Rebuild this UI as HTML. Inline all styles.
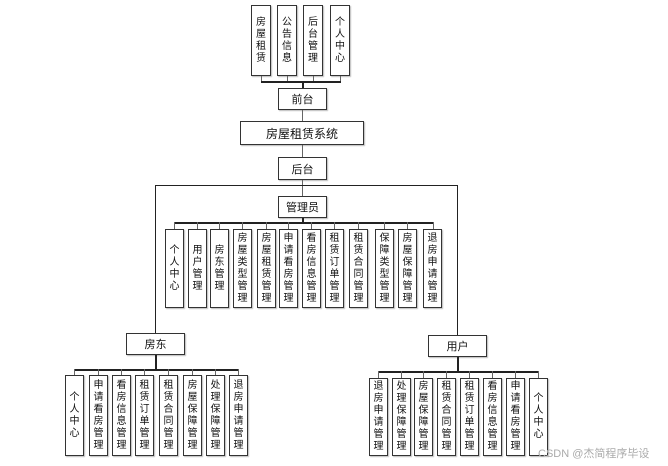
<!DOCTYPE html>
<html><head><meta charset="utf-8"><style>
body{margin:0;width:668px;height:466px;background:#fff;position:relative;overflow:hidden;font-family:"Liberation Sans","Noto Sans CJK SC",sans-serif;color:#111}
.b{position:absolute;box-sizing:border-box;border:1.5px solid #333;background:#fff;box-shadow:1px 1px 1px #bbb;display:flex;align-items:center;justify-content:center;font-size:11px}
.v{flex-direction:column;line-height:12px;font-size:10px;text-align:center;width:19px}
.l{position:absolute;background:#222}
.g{position:absolute;background:#666}
</style></head><body>
<!-- top -->
<div class="b v" style="left:251px;top:5px;height:71px;width:20px">房<br>屋<br>租<br>赁</div>
<div class="b v" style="left:277px;top:5px;height:71px;width:20px">公<br>告<br>信<br>息</div>
<div class="b v" style="left:303px;top:5px;height:71px;width:20px">后<br>台<br>管<br>理</div>
<div class="b v" style="left:330px;top:5px;height:71px;width:20px">个<br>人<br>中<br>心</div>
<div class="g" style="left:261px;top:76px;width:1px;height:6px"></div>
<div class="g" style="left:287px;top:76px;width:1px;height:6px"></div>
<div class="g" style="left:313px;top:76px;width:1px;height:6px"></div>
<div class="g" style="left:340px;top:76px;width:1px;height:6px"></div>
<div class="l" style="left:261px;top:81px;width:80px;height:1.5px"></div>
<div class="l" style="left:302px;top:81px;width:2px;height:7px"></div>
<div class="b" style="left:278px;top:88px;width:49px;height:22px">前台</div>
<div class="g" style="left:302px;top:110px;width:1px;height:11px"></div>
<div class="b" style="left:240px;top:121px;width:124px;height:24px;font-size:12px">房屋租赁系统</div>
<div class="g" style="left:302px;top:145px;width:1px;height:12px"></div>
<div class="b" style="left:278px;top:157px;width:49px;height:23px">后台</div>
<div class="g" style="left:302px;top:180px;width:1px;height:16px"></div>
<!-- frame -->
<div class="l" style="left:155px;top:185px;width:303px;height:1px"></div>
<div class="l" style="left:155px;top:185px;width:1px;height:148px"></div>
<div class="l" style="left:457px;top:185px;width:1px;height:150px"></div>
<div class="b" style="left:278px;top:196px;width:49px;height:22px">管理员</div>
<div class="l" style="left:302px;top:218px;width:2px;height:5px"></div>
<div class="l" style="left:174px;top:222px;width:260px;height:1.5px"></div>
<div class="b v" style="left:165px;top:229px;height:79px">个<br>人<br>中<br>心</div>
<div class="b v" style="left:188px;top:229px;height:79px">用<br>户<br>管<br>理</div>
<div class="b v" style="left:210px;top:229px;height:79px">房<br>东<br>管<br>理</div>
<div class="b v" style="left:233px;top:229px;height:79px">房<br>屋<br>类<br>型<br>管<br>理</div>
<div class="b v" style="left:257px;top:229px;height:79px">房<br>屋<br>租<br>赁<br>管<br>理</div>
<div class="b v" style="left:279px;top:229px;height:79px">申<br>请<br>看<br>房<br>管<br>理</div>
<div class="b v" style="left:302px;top:229px;height:79px">看<br>房<br>信<br>息<br>管<br>理</div>
<div class="b v" style="left:325px;top:229px;height:79px">租<br>赁<br>订<br>单<br>管<br>理</div>
<div class="b v" style="left:349px;top:229px;height:79px">租<br>赁<br>合<br>同<br>管<br>理</div>
<div class="b v" style="left:375px;top:229px;height:79px">保<br>障<br>类<br>型<br>管<br>理</div>
<div class="b v" style="left:398px;top:229px;height:79px">房<br>屋<br>保<br>障<br>管<br>理</div>
<div class="b v" style="left:423px;top:229px;height:79px">退<br>房<br>申<br>请<br>管<br>理</div>
<div class="g" style="left:174px;top:222px;width:1px;height:7px"></div>
<div class="g" style="left:197px;top:222px;width:1px;height:7px"></div>
<div class="g" style="left:219px;top:222px;width:1px;height:7px"></div>
<div class="g" style="left:242px;top:222px;width:1px;height:7px"></div>
<div class="g" style="left:266px;top:222px;width:1px;height:7px"></div>
<div class="g" style="left:288px;top:222px;width:1px;height:7px"></div>
<div class="g" style="left:311px;top:222px;width:1px;height:7px"></div>
<div class="g" style="left:334px;top:222px;width:1px;height:7px"></div>
<div class="g" style="left:358px;top:222px;width:1px;height:7px"></div>
<div class="g" style="left:384px;top:222px;width:1px;height:7px"></div>
<div class="g" style="left:407px;top:222px;width:1px;height:7px"></div>
<div class="g" style="left:433px;top:222px;width:1px;height:7px"></div>
<!-- landlord -->
<div class="b" style="left:126px;top:333px;width:59px;height:22px">房东</div>
<div class="l" style="left:155px;top:355px;width:2px;height:14px"></div>
<div class="l" style="left:74px;top:369px;width:165px;height:1.5px"></div>
<div class="b v" style="left:65px;top:375px;height:81px">个<br>人<br>中<br>心</div>
<div class="b v" style="left:89px;top:375px;height:81px">申<br>请<br>看<br>房<br>管<br>理</div>
<div class="b v" style="left:112px;top:375px;height:81px">看<br>房<br>信<br>息<br>管<br>理</div>
<div class="b v" style="left:135px;top:375px;height:81px">租<br>赁<br>订<br>单<br>管<br>理</div>
<div class="b v" style="left:159px;top:375px;height:81px">租<br>赁<br>合<br>同<br>管<br>理</div>
<div class="b v" style="left:183px;top:375px;height:81px">房<br>屋<br>保<br>障<br>管<br>理</div>
<div class="b v" style="left:206px;top:375px;height:81px">处<br>理<br>保<br>障<br>管<br>理</div>
<div class="b v" style="left:229px;top:375px;height:81px">退<br>房<br>申<br>请<br>管<br>理</div>
<div class="g" style="left:74px;top:369px;width:1px;height:6px"></div>
<div class="g" style="left:98px;top:369px;width:1px;height:6px"></div>
<div class="g" style="left:121px;top:369px;width:1px;height:6px"></div>
<div class="g" style="left:144px;top:369px;width:1px;height:6px"></div>
<div class="g" style="left:168px;top:369px;width:1px;height:6px"></div>
<div class="g" style="left:192px;top:369px;width:1px;height:6px"></div>
<div class="g" style="left:215px;top:369px;width:1px;height:6px"></div>
<div class="g" style="left:238px;top:369px;width:1px;height:6px"></div>
<!-- user -->
<div class="b" style="left:428px;top:335px;width:59px;height:22px">用户</div>
<div class="l" style="left:457px;top:357px;width:2px;height:14px"></div>
<div class="l" style="left:378px;top:371px;width:161px;height:1.5px"></div>
<div class="b v" style="left:369px;top:378px;height:78px">退<br>房<br>申<br>请<br>管<br>理</div>
<div class="b v" style="left:392px;top:378px;height:78px">处<br>理<br>保<br>障<br>管<br>理</div>
<div class="b v" style="left:414px;top:378px;height:78px">房<br>屋<br>保<br>障<br>管<br>理</div>
<div class="b v" style="left:437px;top:378px;height:78px">租<br>赁<br>合<br>同<br>管<br>理</div>
<div class="b v" style="left:460px;top:378px;height:78px">租<br>赁<br>订<br>单<br>管<br>理</div>
<div class="b v" style="left:483px;top:378px;height:78px">看<br>房<br>信<br>息<br>管<br>理</div>
<div class="b v" style="left:506px;top:378px;height:78px">申<br>请<br>看<br>房<br>管<br>理</div>
<div class="b v" style="left:529px;top:378px;height:78px">个<br>人<br>中<br>心</div>
<div class="g" style="left:378px;top:371px;width:1px;height:7px"></div>
<div class="g" style="left:401px;top:371px;width:1px;height:7px"></div>
<div class="g" style="left:423px;top:371px;width:1px;height:7px"></div>
<div class="g" style="left:446px;top:371px;width:1px;height:7px"></div>
<div class="g" style="left:469px;top:371px;width:1px;height:7px"></div>
<div class="g" style="left:492px;top:371px;width:1px;height:7px"></div>
<div class="g" style="left:515px;top:371px;width:1px;height:7px"></div>
<div class="g" style="left:538px;top:371px;width:1px;height:7px"></div>
<div style="position:absolute;left:538px;top:445px;font-size:11px;color:#aaa;white-space:nowrap">CSDN @杰简程序毕设</div>
</body></html>
